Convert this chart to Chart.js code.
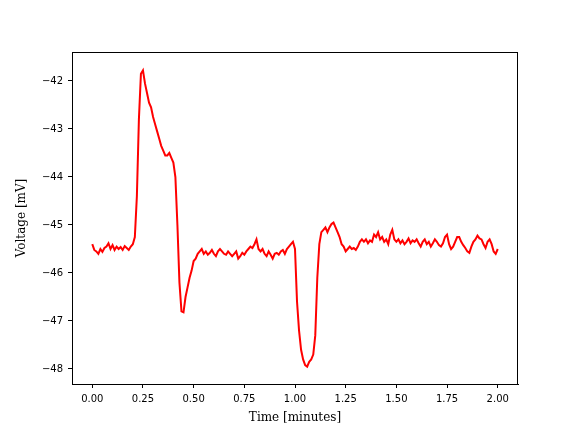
<!DOCTYPE html>
<html>
<head>
<meta charset="utf-8">
<script src="https://cdn.jsdelivr.net/npm/chart.js"></script>
<style>
  html, body { margin: 0; padding: 0; background: #fff; }
  canvas { display: block; }
</style>
</head>
<body>
<canvas id="trace" width="576" height="432"></canvas>
<script>
// time axis, minutes (one sample per 0.01 min)
const timeMin = [];
for (let i = 0; i <= 200; i++) timeMin.push(i / 100);

// membrane voltage, mV
const voltage = [
  -45.40, -45.52, -45.55, -45.60, -45.50, -45.56, -45.48, -45.45, -45.38, -45.50,
  -45.42, -45.52, -45.45, -45.50, -45.46, -45.52, -45.44, -45.48, -45.52, -45.45,
  -45.40, -45.25, -44.40, -42.80, -41.85, -41.78, -42.05, -42.25, -42.45, -42.55,
  -42.75, -42.90, -43.05, -43.20, -43.35, -43.45, -43.55, -43.55, -43.50, -43.60,
  -43.70, -44.00, -45.00, -46.20, -46.80, -46.82, -46.50, -46.30, -46.10, -45.95,
  -45.75, -45.70, -45.60, -45.55, -45.50, -45.60, -45.55, -45.62, -45.58, -45.52,
  -45.60, -45.65, -45.55, -45.50, -45.55, -45.60, -45.62, -45.55, -45.60, -45.65,
  -45.60, -45.55, -45.70, -45.65, -45.58, -45.62, -45.55, -45.50, -45.45, -45.48,
  -45.40, -45.30, -45.50, -45.55, -45.50, -45.60, -45.65, -45.55, -45.62, -45.70,
  -45.60, -45.58, -45.62, -45.55, -45.52, -45.60, -45.50, -45.45, -45.40, -45.35,
  -45.50, -46.60, -47.20, -47.60, -47.80, -47.92, -47.95, -47.85, -47.80, -47.70,
  -47.30, -46.10, -45.40, -45.15, -45.10, -45.05, -45.15, -45.05, -44.98, -44.95,
  -45.05, -45.15, -45.25, -45.40, -45.45, -45.55, -45.50, -45.45, -45.50, -45.48,
  -45.52, -45.45, -45.35, -45.30, -45.35, -45.30, -45.38, -45.32, -45.35, -45.20,
  -45.25, -45.15, -45.30, -45.25, -45.35, -45.30, -45.40, -45.20, -45.10, -45.30,
  -45.35, -45.30, -45.38, -45.32, -45.40, -45.35, -45.28, -45.38, -45.32, -45.35,
  -45.30, -45.38, -45.45, -45.35, -45.30, -45.40, -45.35, -45.45, -45.38, -45.30,
  -45.35, -45.42, -45.45, -45.38, -45.25, -45.20, -45.40, -45.50, -45.45, -45.35,
  -45.25, -45.25, -45.35, -45.42, -45.48, -45.55, -45.58, -45.45, -45.35, -45.30,
  -45.22, -45.28, -45.30, -45.40, -45.48, -45.35, -45.30, -45.40, -45.55, -45.60,
  -45.50
];

const xTicks = [0, 0.25, 0.5, 0.75, 1, 1.25, 1.5, 1.75, 2];
const yTicks = [-48, -47, -46, -45, -44, -43, -42];

// full black frame around the plot area
const frame = {
  id: 'frame',
  afterDraw(chart) {
    const { ctx, chartArea: a } = chart;
    ctx.save();
    ctx.strokeStyle = '#000';
    ctx.lineWidth = 1;
    ctx.strokeRect(a.left + 0.5, a.top + 0.5, a.right - a.left - 1, a.bottom - a.top);
    ctx.restore();
  }
};

const tickFont = { family: 'DejaVu Sans', size: 10 };
const labelFont = { family: 'DejaVu Serif', size: 12 };

new Chart(document.getElementById('trace'), {
  type: 'line',
  data: {
    datasets: [{
      data: timeMin.map((t, i) => ({ x: t, y: voltage[i] })),
      borderColor: '#ff0000',
      borderWidth: 2,
      pointRadius: 0,
      tension: 0,
      fill: false
    }]
  },
  options: {
    responsive: false,
    animation: false,
    layout: { padding: { left: 0, top: 52, right: 58, bottom: 0 } },
    plugins: { legend: { display: false }, tooltip: { enabled: false } },
    scales: {
      x: {
        type: 'linear',
        min: -0.1,
        max: 2.1,
        afterBuildTicks: s => { s.ticks = xTicks.map(v => ({ value: v })); },
        afterFit: s => { s.height = 48; },
        grid: { drawOnChartArea: false, color: '#000', tickLength: 4 },
        border: { color: '#000' },
        ticks: {
          color: '#000', font: tickFont, padding: 5, maxRotation: 0,
          callback: v => v.toFixed(2)
        },
        title: { display: true, text: 'Time [minutes]', color: '#000', font: labelFont, padding: { top: 0, bottom: 7 } }
      },
      y: {
        min: -48.3125,
        max: -41.396,
        afterBuildTicks: s => { s.ticks = yTicks.map(v => ({ value: v })); },
        afterFit: s => { s.width = 72; },
        grid: { drawOnChartArea: false, color: '#000', tickLength: 4 },
        border: { color: '#000' },
        ticks: {
          color: '#000', font: tickFont, padding: 5,
          callback: v => String(v).replace('-', '\u2212')
        },
        title: { display: true, text: 'Voltage [mV]', color: '#000', font: labelFont, padding: { top: 15, bottom: 0 } }
      }
    }
  },
  plugins: [frame]
});
</script>
</body>
</html>
